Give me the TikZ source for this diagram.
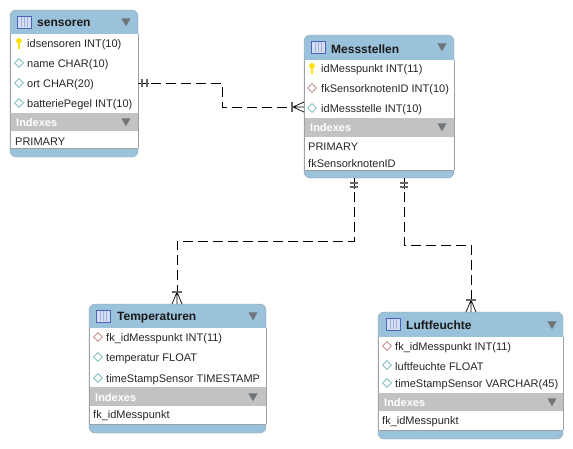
\documentclass[tikz,border=0pt]{standalone}
\usepackage{fontspec}
\setmainfont{Liberation Sans}
\usetikzlibrary{shapes.geometric}
\definecolor{headblue}{HTML}{9BC2DB}
\definecolor{indexgray}{HTML}{C2C2C2}
\definecolor{framegray}{HTML}{9AA2A6}
\definecolor{marktri}{HTML}{6E7478}
\definecolor{plainedge}{HTML}{6FB5BA}
\definecolor{fkedge}{HTML}{C08078}
\definecolor{iconedge}{HTML}{4A63B8}
\definecolor{iconfill}{HTML}{D5DEF2}
\definecolor{iconline}{HTML}{9DB0DE}
\tikzset{
	tablebox/.style={draw=framegray, fill=headblue, rounded corners=6pt, inner sep=0pt, outer sep=0pt, anchor=north west},
	tabletitle/.style={anchor=west, inner sep=0pt, yshift=-1.4pt, font=\fontsize{12}{12}\selectfont\bfseries, text=black!90},
	coltext/.style={anchor=west, inner sep=0pt, yshift=-1.4pt, font=\fontsize{11}{11}\selectfont, text=black!85},
	indextext/.style={anchor=west, inner sep=0pt, yshift=-1pt, font=\fontsize{11}{11}\selectfont\bfseries, text=white},
	tableicon/.style={draw=iconedge, fill=iconfill, line width=0.8pt, minimum width=14pt, minimum height=12pt, inner sep=0pt, anchor=center},
	iconstripe/.style={iconline, line width=0.7pt},
	menutri/.style={regular polygon, regular polygon sides=3, shape border rotate=180, fill=marktri, minimum size=10.5pt, inner sep=0pt},
	plaincol/.style={diamond, draw=plainedge, fill=white, minimum size=9pt, inner sep=0pt, line width=0.6pt},
	fkcol/.style={diamond, draw=fkedge, fill=white, minimum size=9pt, inner sep=0pt, line width=0.6pt},
	keycol/.pic={
		\fill[yellow!85!orange] (0,-2.2) circle (2.8pt);
		\fill[yellow!85!orange] (-1.2,-1) rectangle (1.2,6);
	},
	relline/.style={line width=0.8pt, dash pattern=on 10pt off 5pt},
	stub/.style={line width=0.8pt},
	tickmark/.style={line width=1.4pt, black!60},
	crow/.style={line width=0.7pt},
}
\begin{document}
\begin{tikzpicture}[x=1pt, y=-1pt]
	\useasboundingbox (0,0) rectangle (573,448);

	% sensoren
	\node[tablebox, minimum width=128pt, minimum height=147pt] (sensoren) at (10,10) {};
	\fill[white] (10,34) rectangle (138,148);
	\fill[indexgray] (10,113) rectangle (138,131);
	\draw[framegray] (10,34) -- (10,148) (138,34) -- (138,148) (10,148) -- (138,148);
	\node[tableicon] (sensorenIcon) at (24,22) {};
	\draw[iconstripe] (21,17) -- (21,27) (24,17) -- (24,27) (27,17) -- (27,27);
	\node[tabletitle] (sensorenTitle) at (37,22) {sensoren};
	\node[menutri] (sensorenTri) at (126,21) {};
	\pic at (19,43) {keycol};
	\node[coltext] (sensorenA) at (27,43) {idsensoren INT(10)};
	\node[plaincol] (sensorenBi) at (19,63) {};
	\node[coltext] (sensorenB) at (27,63) {name CHAR(10)};
	\node[plaincol] (sensorenCi) at (19,83) {};
	\node[coltext] (sensorenC) at (27,83) {ort CHAR(20)};
	\node[plaincol] (sensorenDi) at (19,103) {};
	\node[coltext] (sensorenD) at (27,103) {batteriePegel INT(10)};
	\node[indextext] (sensorenIdx) at (16,122) {Indexes};
	\node[menutri] (sensorenIdxTri) at (126,121) {};
	\node[coltext] (sensorenP) at (15,140) {PRIMARY};

	% Messstellen
	\node[tablebox, minimum width=150pt, minimum height=143pt] (messstellen) at (304,35) {};
	\fill[white] (304,60) rectangle (454,170);
	\fill[indexgray] (304,118) rectangle (454,137);
	\draw[framegray] (304,60) -- (304,170) (454,60) -- (454,170) (304,170) -- (454,170);
	\node[tableicon] (messIcon) at (318,47) {};
	\draw[iconstripe] (315,42) -- (315,52) (318,42) -- (318,52) (321,42) -- (321,52);
	\node[tabletitle] (messTitle) at (331,48) {Messstellen};
	\node[menutri] (messTri) at (442,46) {};
	\pic at (312,68) {keycol};
	\node[coltext] (messA) at (321,68) {idMesspunkt INT(11)};
	\node[fkcol] (messBi) at (312,88) {};
	\node[coltext] (messB) at (321,88) {fkSensorknotenID INT(10)};
	\node[plaincol] (messCi) at (312,108) {};
	\node[coltext] (messC) at (321,108) {idMessstelle INT(10)};
	\node[indextext] (messIdx) at (310,127) {Indexes};
	\node[menutri] (messIdxTri) at (442,126) {};
	\node[coltext] (messP) at (308,145) {PRIMARY};
	\node[coltext] (messF) at (308,162) {fkSensorknotenID};

	% Temperaturen
	\node[tablebox, minimum width=177pt, minimum height=129pt] (temperaturen) at (89,304) {};
	\fill[white] (89,328) rectangle (266,424);
	\fill[indexgray] (89,387) rectangle (266,406);
	\draw[framegray] (89,328) -- (89,424) (266,328) -- (266,424) (89,424) -- (266,424);
	\node[tableicon] (tempIcon) at (103,316) {};
	\draw[iconstripe] (100,311) -- (100,321) (103,311) -- (103,321) (106,311) -- (106,321);
	\node[tabletitle] (tempTitle) at (117,316) {Temperaturen};
	\node[menutri] (tempTri) at (253,315) {};
	\node[fkcol] (tempAi) at (98,337) {};
	\node[coltext] (tempA) at (106,337) {fk\_idMesspunkt INT(11)};
	\node[plaincol] (tempBi) at (98,357) {};
	\node[coltext] (tempB) at (106,357) {temperatur FLOAT};
	\node[plaincol] (tempCi) at (98,378) {};
	\node[coltext] (tempC) at (106,378) {timeStampSensor TIMESTAMP};
	\node[indextext] (tempIdx) at (95,397) {Indexes};
	\node[menutri] (tempIdxTri) at (253,396) {};
	\node[coltext] (tempF) at (93,414) {fk\_idMesspunkt};

	% Luftfeuchte
	\node[tablebox, minimum width=185pt, minimum height=127pt] (luftfeuchte) at (378,312) {};
	\fill[white] (378,337) rectangle (563,430);
	\fill[indexgray] (378,393) rectangle (563,411);
	\draw[framegray] (378,337) -- (378,430) (563,337) -- (563,430) (378,430) -- (563,430);
	\node[tableicon] (luftIcon) at (393,324) {};
	\draw[iconstripe] (390,319) -- (390,329) (393,319) -- (393,329) (396,319) -- (396,329);
	\node[tabletitle] (luftTitle) at (406,324) {Luftfeuchte};
	\node[menutri] (luftTri) at (552,324) {};
	\node[fkcol] (luftAi) at (387,346) {};
	\node[coltext] (luftA) at (395,346) {fk\_idMesspunkt INT(11)};
	\node[plaincol] (luftBi) at (387,365) {};
	\node[coltext] (luftB) at (395,365) {luftfeuchte FLOAT};
	\node[plaincol] (luftCi) at (387,383) {};
	\node[coltext] (luftC) at (395,383) {timeStampSensor VARCHAR(45)};
	\node[indextext] (luftIdx) at (384,402) {Indexes};
	\node[menutri] (luftIdxTri) at (552,401) {};
	\node[coltext] (luftF) at (382,420) {fk\_idMesspunkt};

	% Verbindungspunkte
	\coordinate (sensorenOut) at (sensoren.east |- 0,83);
	\coordinate (messIn) at (messstellen.west |- 0,107);
	\coordinate (messOutA) at (354,178);
	\coordinate (messOutB) at (404,178);
	\coordinate (tempIn) at (177,304);
	\coordinate (luftIn) at (471,312);

	% sensoren -- Messstellen
	\draw[stub] (sensorenOut) -- ++(11,0);
	\draw[tickmark] (sensorenOut) ++(4,-4) -- ++(0,8);
	\draw[tickmark] (sensorenOut) ++(9,-4) -- ++(0,8);
	\draw[relline] (sensorenOut) ++(13,0) -- (222,83) -- (222,107) -- ([xshift=-12pt]messIn);
	\draw[crow] (messIn) -- ++(-11,0) (messIn) ++(0,-5) -- ++(-11,5) -- ++(11,5);
	\draw[tickmark] (messIn) ++(-12,-5) -- ++(0,10);

	% Messstellen -- Temperaturen
	\draw[stub] (messOutA) -- ++(0,11);
	\draw[tickmark] (messOutA) ++(-4,5) -- ++(8,0);
	\draw[tickmark] (messOutA) ++(-4,9) -- ++(8,0);
	\draw[relline] (messOutA) ++(0,14) -- (354,241) -- (177,241) -- ([yshift=12pt]tempIn);
	\draw[crow] (tempIn) -- ++(0,-12) (tempIn) ++(-5,0) -- ++(5,-12) -- ++(5,12);
	\draw[tickmark] (tempIn) ++(-5,-12) -- ++(10,0);

	% Messstellen -- Luftfeuchte
	\draw[stub] (messOutB) -- ++(0,11);
	\draw[tickmark] (messOutB) ++(-4,5) -- ++(8,0);
	\draw[tickmark] (messOutB) ++(-4,9) -- ++(8,0);
	\draw[relline] (messOutB) ++(0,14) -- (404,245) -- (471,245) -- ([yshift=12pt]luftIn);
	\draw[crow] (luftIn) -- ++(0,-12) (luftIn) ++(-5,0) -- ++(5,-12) -- ++(5,12);
	\draw[tickmark] (luftIn) ++(-5,-12) -- ++(10,0);
\end{tikzpicture}
\end{document}
